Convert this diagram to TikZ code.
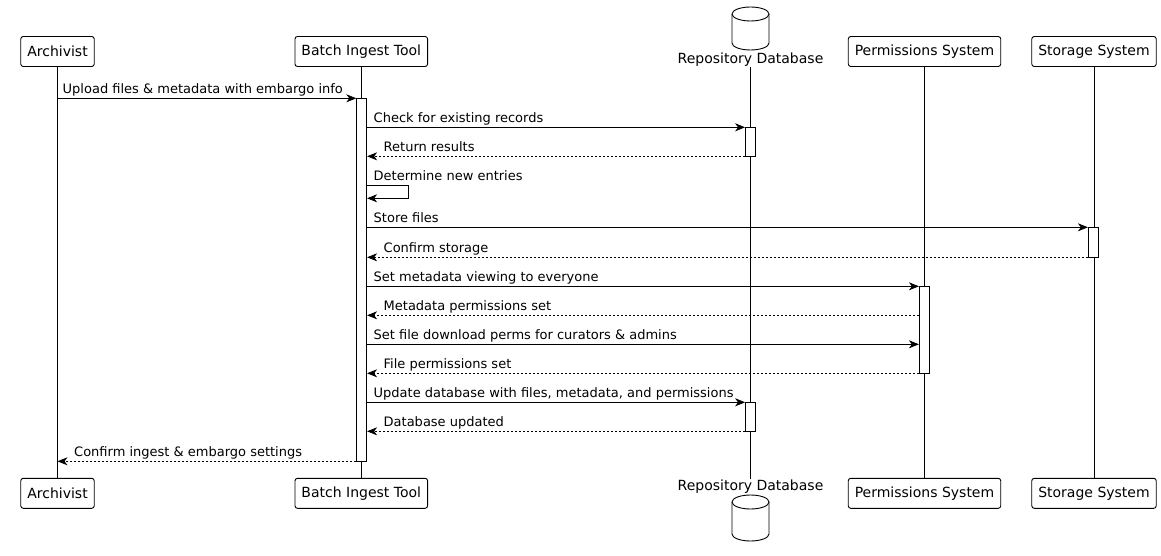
\documentclass[tikz,border=0pt]{standalone}
\usepackage{fontspec}
\setmainfont{DejaVu Sans}
\usetikzlibrary{arrows.meta}
\begin{document}
\begin{tikzpicture}[x=1pt,y=-1pt,
  part/.style={draw, line width=0.9pt, rounded corners=2.5pt, minimum height=30pt, inner xsep=6.5pt, inner ysep=0pt, font=\fontsize{14}{16}\selectfont, fill=white},
  life/.style={line width=0.8pt},
  actbox/.style={draw, line width=0.8pt, fill=white, minimum width=10pt, inner sep=0pt},
  msg/.style={line width=0.8pt, -{Stealth[length=10pt,width=8pt,inset=3pt]}},
  ret/.style={msg, dash pattern=on 2pt off 2pt},
  lbl/.style={anchor=base west, inner sep=0pt, font=\fontsize{13}{15}\selectfont},
  dbshape/.style={line width=0.9pt, fill=white}
]
\useasboundingbox (0,0) rectangle (1161,556);

% participants top
\node[part] (arT) at (57.5,51.5) {Archivist};
\node[part] (btT) at (361.3,51.5) {Batch Ingest Tool};
\node[part] (psT) at (924.5,51.5) {Permissions System};
\node[part] (ssT) at (1094,51.5) {Storage System};
\node[inner sep=0pt, anchor=base, font=\fontsize{14}{16}\selectfont] (dbT) at (750.5,64) {Repository Database};
% participants bottom
\node[part] (arB) at (57.5,493.3) {Archivist};
\node[part] (btB) at (361.3,493.3) {Batch Ingest Tool};
\node[part] (psB) at (924.5,493.3) {Permissions System};
\node[part] (ssB) at (1094,493.3) {Storage System};
\node[inner sep=0pt, anchor=base, font=\fontsize{14}{16}\selectfont] (dbB) at (750.5,490.5) {Repository Database};

% lifelines
\draw[life] (arT.south) -- (arB.north);
\draw[life] (btT.south) -- (btB.north);
\draw[life] (psT.south) -- (psB.north);
\draw[life] (ssT.south) -- (ssB.north);
\coordinate (dbL1) at (750.5,67);
\coordinate (dbL2) at (750.5,479);
\draw[life] (dbL1) -- (dbL2);

% database cylinders
\draw[dbshape] (732,14) -- (732,43) arc[start angle=180,end angle=0,x radius=18.5,y radius=7] -- (769,14) arc[start angle=0,end angle=-180,x radius=18.5,y radius=7] -- cycle;
\draw[dbshape] (732,14) arc[start angle=180,end angle=0,x radius=18.5,y radius=7];
\draw[dbshape] (732,502) -- (732,534) arc[start angle=180,end angle=0,x radius=18.5,y radius=7] -- (769,502) arc[start angle=0,end angle=-180,x radius=18.5,y radius=7] -- cycle;
\draw[dbshape] (732,502) arc[start angle=180,end angle=0,x radius=18.5,y radius=7];

% activations
\node[actbox, minimum height=363pt] (abt) at (361.7,279.7) {};
\node[actbox, minimum height=29pt] (adb1) at (750.5,141.7) {};
\node[actbox, minimum height=30pt] (ass) at (1093.3,242.3) {};
\node[actbox, minimum height=87pt] (aps) at (924.3,329.8) {};
\node[actbox, minimum height=29pt] (adb2) at (750.5,416.7) {};

% messages
\draw[msg] (arT.south |- 0,98.3) -- (abt.west |- 0,98.3);
\node[lbl] (l1) at (62.5,93.3) {Upload files \& metadata with embargo info};

\draw[msg] (abt.east |- 0,127.3) -- (adb1.west |- 0,127.3);
\node[lbl] (l2) at (373.5,122.3) {Check for existing records};

\draw[ret] (adb1.west |- 0,156.3) -- (abt.east |- 0,156.3);
\node[lbl] (l3) at (383.5,151.3) {Return results};

\coordinate (s1) at (408.3,185.3);
\coordinate (s2) at (408.3,198.3);
\draw[msg] (abt.east |- 0,185.3) -- (s1) -- (s2) -- (abt.east |- 0,198.3);
\node[lbl] (l4) at (373.5,180.3) {Determine new entries};

\draw[msg] (abt.east |- 0,227.3) -- (ass.west |- 0,227.3);
\node[lbl] (l5) at (373.5,222.3) {Store files};

\draw[ret] (ass.west |- 0,257.3) -- (abt.east |- 0,257.3);
\node[lbl] (l6) at (383.5,252.3) {Confirm storage};

\draw[msg] (abt.east |- 0,286.3) -- (aps.west |- 0,286.3);
\node[lbl] (l7) at (373.5,281.3) {Set metadata viewing to everyone};

\draw[ret] (aps.west |- 0,315.3) -- (abt.east |- 0,315.3);
\node[lbl] (l8) at (383.5,310.3) {Metadata permissions set};

\draw[msg] (abt.east |- 0,344.3) -- (aps.west |- 0,344.3);
\node[lbl] (l9) at (373.5,339.3) {Set file download perms for curators \& admins};

\draw[ret] (aps.west |- 0,373.3) -- (abt.east |- 0,373.3);
\node[lbl] (l10) at (383.5,368.3) {File permissions set};

\draw[msg] (abt.east |- 0,402.3) -- (adb2.west |- 0,402.3);
\node[lbl] (l11) at (373.5,397.3) {Update database with files, metadata, and permissions};

\draw[ret] (adb2.west |- 0,431.3) -- (abt.east |- 0,431.3);
\node[lbl] (l12) at (383.5,426.3) {Database updated};

\draw[ret] (abt.west |- 0,461.3) -- (arT.south |- 0,461.3);
\node[lbl] (l13) at (74,456.3) {Confirm ingest \& embargo settings};
\end{tikzpicture}
\end{document}
